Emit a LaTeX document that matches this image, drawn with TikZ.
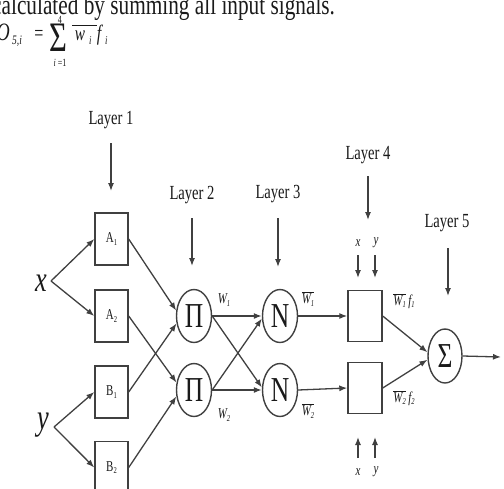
\documentclass[tikz,border=0pt]{standalone}
\usepackage{fontspec}
\setmainfont{Liberation Serif}
\newfontfamily\sq[FakeStretch=0.73]{Liberation Serif}
\newfontfamily\hd[FakeStretch=0.76]{Liberation Serif}
\usetikzlibrary{arrows.meta,shapes.geometric}
\definecolor{lin}{HTML}{404040}
\definecolor{txt}{HTML}{1A1A1A}
\newcommand\sbs[1]{\raisebox{-2.5pt}{\fontsize{9}{9}\selectfont #1}}
\newcommand\ovl[1]{$\overline{\mbox{#1}}$}
\begin{document}
\begin{tikzpicture}[x=1pt,y=-1pt,
  ln/.style={draw=lin, line width=1.3pt},
  arr/.style={ln, -{Latex[length=8pt,width=6pt]}},
  blk/.style={draw=lin, line width=1.4pt, minimum width=33pt, minimum height=52pt, inner sep=0pt, text=txt,
              font=\sq\fontsize{15}{15}\selectfont},
  op/.style={ellipse, draw=lin, line width=1.4pt, minimum width=35pt, minimum height=53pt, inner sep=0pt, text=txt,
             font=\sq\fontsize{35}{35}\selectfont},
  lay/.style={font=\sq\fontsize{20}{20}\selectfont, inner sep=0pt, text=txt},
  lab/.style={font=\sq\itshape\fontsize{15}{15}\selectfont, inner sep=0pt, text=txt},
  big/.style={font=\sq\itshape\fontsize{36}{36}\selectfont, inner sep=0pt, text=txt},
  fm/.style={inner sep=0pt, text=txt}
]
\useasboundingbox (0,0) rectangle (504,488);

% heading text and formula
\node[fm, anchor=base west, font=\hd\fontsize{28}{28}\selectfont] (head) at (-8,14) {calculated by summing all input signals.};
\node[fm, anchor=base east, font=\sq\itshape\fontsize{25}{25}\selectfont] (fO) at (10,40) {O};
\node[fm, anchor=base west, font=\sq\itshape\fontsize{13}{13}\selectfont] (fsub) at (12,44) {5,i};
\node[fm, anchor=base, font=\sq\fontsize{22}{22}\selectfont] (feq) at (39,40) {=};
\node[fm, font=\sq\fontsize{42}{42}\selectfont] (fsum) at (58,38) {Σ};
\node[fm, font=\sq\fontsize{11}{11}\selectfont] (ftop) at (60,19.5) {4};
\node[fm, font=\sq\fontsize{11}{11}\selectfont] (fbot) at (60,63) {\textit{i} =1};
\node[fm, anchor=base, font=\sq\itshape\fontsize{21}{21}\selectfont] (fw) at (80,40) {w};
\node[fm, anchor=base west, font=\sq\itshape\fontsize{12}{12}\selectfont] (fwi) at (89,44) {i};
\node[fm, anchor=base, font=\sq\itshape\fontsize{22}{22}\selectfont] (ff) at (99,40) {f};
\node[fm, anchor=base west, font=\sq\itshape\fontsize{12}{12}\selectfont] (ffi) at (105,44) {i};
\draw[txt, line width=0.9pt] (72,25) -- (97,25);

% layer 1 boxes
\node[blk] (A1) at (111.5,239) {A\sbs{1}};
\node[blk] (A2) at (111.5,316) {A\sbs{2}};
\node[blk] (B1) at (111.5,392) {B\sbs{1}};
\node[blk] (B2) at (111.5,467.5) {B\sbs{2}};

% operators
\node[op] (P1) at (194,316) {Π};
\node[op] (P2) at (194,390) {Π};
\node[op] (N1) at (280,316) {N};
\node[op] (N2) at (280,390) {N};
\node[blk, minimum width=34pt, minimum height=51pt] (F1) at (365,316) {};
\node[blk, minimum width=34pt, minimum height=51pt] (F2) at (365,388) {};
\node[op, minimum width=34pt, minimum height=54pt] (S) at (445,356) {Σ};

% inputs
\node[big] (X) at (41,283) {x};
\node[big] (Y) at (43,425) {y};
\coordinate (xp) at (51,281);
\coordinate (yp) at (54,427);
\draw[arr] (xp) -- (A1.west);
\draw[arr] (xp) -- (A2.west);
\draw[arr] (yp) -- (B1.west);
\draw[arr] (yp) -- (B2.west);

% layer 1 -> 2
\draw[arr] (A1.east) -- (P1.163);
\draw[arr] (B1.east) -- (P1.203);
\draw[arr] (A2.east) -- (P2.157);
\draw[arr] (B2.east) -- (P2.200);

% layer 2 -> 3
\draw[arr] (P1.east) -- (N1.west);
\draw[arr] (P1.east) -- (N2.172);
\draw[arr] (P2.east) -- (N2.west);
\draw[arr] (P2.east) -- (N1.188);

% layer 3 -> 4 -> 5
\draw[arr] (N1.east) -- (F1.west);
\draw[arr] (N2.east) -- (F2.west);
\draw[arr] (F1.east) -- (S.168);
\draw[arr] (F2.east) -- (S.192);
\coordinate (out) at (501,357);
\draw[arr] (S.east) -- (out);

% layer labels and arrows
\node[lay] (L1) at (111,120) {Layer 1};
\node[lay] (L2) at (192,195) {Layer 2};
\node[lay] (L3) at (278,194) {Layer 3};
\node[lay] (L4) at (368,155) {Layer 4};
\node[lay] (L5) at (447,223) {Layer 5};
\coordinate (l1a) at (111,143); \coordinate (l1b) at (111,191);
\coordinate (l2a) at (192,218); \coordinate (l2b) at (192,266);
\coordinate (l3a) at (278,218); \coordinate (l3b) at (278,267);
\coordinate (l4a) at (368,176); \coordinate (l4b) at (368,220);
\coordinate (l5a) at (448,248); \coordinate (l5b) at (448,296);
\draw[arr] (l1a) -- (l1b);
\draw[arr] (l2a) -- (l2b);
\draw[arr] (l3a) -- (l3b);
\draw[arr] (l4a) -- (l4b);
\draw[arr] (l5a) -- (l5b);

% x y inputs to layer 4
\node[lab] (tx) at (358,243) {x};
\node[lab] (ty) at (376,243) {y};
\coordinate (txa) at (358,255); \coordinate (txb) at (358,278);
\coordinate (tya) at (375,255); \coordinate (tyb) at (375,278);
\draw[arr] (txa) -- (txb);
\draw[arr] (tya) -- (tyb);
\node[lab] (bx) at (358,472) {x};
\node[lab] (by) at (376,472) {y};
\coordinate (bxa) at (358,458); \coordinate (bxb) at (358,437);
\coordinate (bya) at (375,458); \coordinate (byb) at (375,437);
\draw[arr] (bxa) -- (bxb);
\draw[arr] (bya) -- (byb);

% weight labels
\node[lab] (w1) at (224,300) {W\sbs{1}};
\node[lab] (w2) at (224,415) {W\sbs{2}};
\node[lab] (nw1) at (308,299) {\ovl{W\sbs{1}}};
\node[lab] (nw2) at (308,411) {\ovl{W\sbs{2}}};
\node[lab] (wf1) at (404,301) {\ovl{W\sbs{1}}\,f\sbs{1}};
\node[lab] (wf2) at (404,398) {\ovl{W\sbs{2}}\,f\sbs{2}};
\end{tikzpicture}
\end{document}
